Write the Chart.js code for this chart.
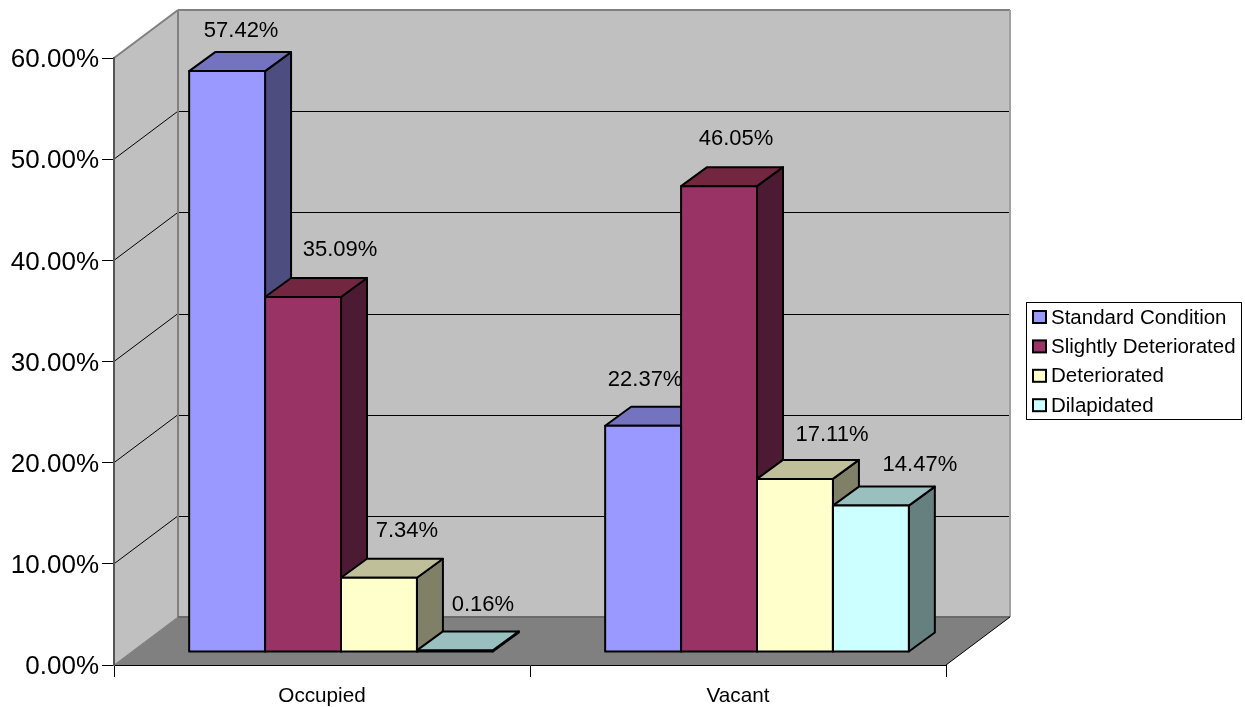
<!DOCTYPE html>
<html>
<head>
<meta charset="utf-8">
<title>Condition of buildings</title>
<script src="https://cdn.jsdelivr.net/npm/chart.js@4"></script>
<style>
  html, body { margin: 0; padding: 0; background: #fff; }
  canvas { display: block; }
</style>
</head>
<body>
<canvas id="chart" width="1245" height="707"></canvas>
<script>
const categories = ['Occupied', 'Vacant'];
const seriesNames = ['Standard Condition', 'Slightly Deteriorated', 'Deteriorated', 'Dilapidated'];
const standardCondition = [57.42, 22.37];
const slightlyDeteriorated = [35.09, 46.05];
const deteriorated = [7.34, 17.11];
const dilapidated = [0.16, 14.47];

const FONT = '"Liberation Sans", Arial, sans-serif';

// front / top / side face colours per series
const faces = [
  ['#9999FF', '#7373BF', '#4D4D80'],
  ['#993366', '#732640', '#4D1A33'],
  ['#FFFFCC', '#BFBF99', '#808066'],
  ['#CCFFFF', '#99BFBF', '#668080'],
];

const WALL = { dx: 64, dy: -48 };   // depth of the 3d box
const BAR = { dx: 26, dy: -19 };    // depth of one bar
const SHIFT = { dx: 19, dy: -13 };  // bars stand a bit inside the floor

// data labels were placed by hand in the original, offset from bar top centre
const labelNudge = [
  [[14, -40], [2, -46]],
  [[37, -47], [17, -47]],
  [[28, -47], [37, -44]],
  [[28, -45], [49, -41]],
];

function poly(ctx, pts, fill, stroke, width) {
  ctx.beginPath();
  pts.forEach((p, i) => (i ? ctx.lineTo(p[0], p[1]) : ctx.moveTo(p[0], p[1])));
  ctx.closePath();
  if (fill) { ctx.fillStyle = fill; ctx.fill(); }
  if (stroke) { ctx.strokeStyle = stroke; ctx.lineWidth = width; ctx.lineJoin = 'round'; ctx.stroke(); }
}

function line(ctx, x1, y1, x2, y2, color, width) {
  ctx.beginPath();
  ctx.moveTo(x1, y1);
  ctx.lineTo(x2, y2);
  ctx.strokeStyle = color;
  ctx.lineWidth = width;
  ctx.stroke();
}

const box3d = {
  id: 'box3d',
  beforeDraw(chart) {
    const { ctx, chartArea: a, scales } = chart;
    const bx = WALL.dx, by = WALL.dy;
    ctx.save();
    // back and side walls
    poly(ctx, [[a.left, a.top], [a.left + bx, a.top + by], [a.right + bx, a.top + by],
      [a.right + bx, a.bottom + by], [a.left + bx, a.bottom + by], [a.left, a.bottom]], '#C0C0C0');
    // gridlines from the value axis, running across the side wall then the back wall
    scales.y.ticks.forEach((t, i) => {
      const y = scales.y.getPixelForTick(i);
      if (t.value === 0 || t.value === scales.y.max) return;
      line(ctx, a.left, y, a.left + bx, y + by, '#000', 1);
      line(ctx, a.left + bx, Math.round(y + by) + 0.5, a.right + bx, Math.round(y + by) + 0.5, '#000', 1);
    });
    // floor
    poly(ctx, [[a.left, a.bottom], [a.right, a.bottom], [a.right + bx, a.bottom + by], [a.left + bx, a.bottom + by]], '#808080');
    // box edges
    line(ctx, a.left, a.top, a.left + bx, a.top + by, '#808080', 2);
    line(ctx, a.left + bx, a.top + by, a.right + bx, a.top + by, '#808080', 2);
    line(ctx, a.left + bx, a.top + by, a.left + bx, a.bottom + by, '#808080', 2);
    line(ctx, a.right + bx, a.top + by, a.right + bx, a.bottom + by, '#A0A0A0', 2);
    line(ctx, a.left + bx, a.bottom + by, a.right + bx, a.bottom + by, '#6A6A6A', 2);
    line(ctx, a.left, a.bottom, a.left + bx, a.bottom + by, '#808080', 1);
    line(ctx, a.right, a.bottom, a.right + bx, a.bottom + by, '#000', 1);
    ctx.restore();
  },
  beforeDatasetsDraw(chart) {
    const { ctx } = chart;
    ctx.save();
    ctx.translate(SHIFT.dx, SHIFT.dy);
    chart.data.datasets.forEach((ds, d) => {
      chart.getDatasetMeta(d).data.forEach((el) => {
        const l = el.x - el.width / 2, r = el.x + el.width / 2;
        // side, then top
        poly(ctx, [[r, el.y], [r + BAR.dx, el.y + BAR.dy], [r + BAR.dx, el.base + BAR.dy], [r, el.base]], faces[d][2], '#000', 2);
        poly(ctx, [[l, el.y], [l + BAR.dx, el.y + BAR.dy], [r + BAR.dx, el.y + BAR.dy], [r, el.y]], faces[d][1], '#000', 2);
      });
    });
  },
  afterDatasetsDraw(chart) {
    const { ctx } = chart;
    // outline of the front faces, centred on the edge
    chart.data.datasets.forEach((ds, d) => {
      chart.getDatasetMeta(d).data.forEach((el) => {
        ctx.strokeStyle = '#000';
        ctx.lineWidth = 2;
        ctx.strokeRect(el.x - el.width / 2, el.y, el.width, el.base - el.y);
      });
    });
    ctx.restore();
    ctx.save();
    ctx.font = '22px ' + FONT;
    ctx.fillStyle = '#000';
    ctx.textAlign = 'center';
    ctx.textBaseline = 'middle';
    chart.data.datasets.forEach((ds, d) => {
      chart.getDatasetMeta(d).data.forEach((el, i) => {
        const [nx, ny] = labelNudge[d][i];
        ctx.fillText(ds.data[i].toFixed(2) + '%', el.x + SHIFT.dx + nx, el.y + SHIFT.dy + ny);
      });
    });
    ctx.restore();
  },
  afterDraw(chart) {
    // legend box
    const { ctx } = chart;
    ctx.save();
    ctx.fillStyle = '#fff';
    ctx.fillRect(1026.5, 302.5, 215, 117);
    line(ctx, 1026, 302.5, 1242, 302.5, '#000', 1);
    line(ctx, 1026.5, 302, 1026.5, 420, '#000', 1);
    line(ctx, 1241.5, 302, 1241.5, 420, '#000', 1);
    line(ctx, 1026, 419.5, 1242, 419.5, '#000', 1);
    ctx.font = '20.5px ' + FONT;
    ctx.textBaseline = 'middle';
    chart.data.datasets.forEach((ds, d) => {
      const y = 317 + d * 29.4;
      ctx.fillStyle = ds.backgroundColor;
      ctx.fillRect(1033, y - 6, 13, 12);
      ctx.strokeStyle = '#000';
      ctx.lineWidth = 2;
      ctx.strokeRect(1033, y - 6, 13, 12);
      ctx.fillStyle = '#000';
      ctx.fillText(ds.label, 1051, y + 1);
    });
    ctx.restore();
  },
};

const allValues = [standardCondition, slightlyDeteriorated, deteriorated, dilapidated];

new Chart(document.getElementById('chart'), {
  type: 'bar',
  plugins: [box3d],
  data: {
    labels: categories,
    datasets: seriesNames.map((name, d) => ({
      label: name,
      data: allValues[d],
      backgroundColor: faces[d][0],
      borderWidth: 0,
      clip: false,
    })),
  },
  options: {
    responsive: false,
    animation: false,
    devicePixelRatio: 1,
    categoryPercentage: 0.73,
    barPercentage: 1,
    layout: { padding: { top: 58, right: 299, left: 0, bottom: 0 } },
    plugins: { legend: { display: false }, tooltip: { enabled: false } },
    scales: {
      x: {
        afterFit: (s) => { s.height = 42; },
        grid: { drawOnChartArea: false, tickLength: 12, tickColor: '#000', tickWidth: 1, offset: true },
        border: { color: '#000', width: 1 },
        ticks: { color: '#000', font: { family: FONT, size: 20.7 }, padding: 7, maxRotation: 0 },
      },
      y: {
        min: 0,
        max: 60,
        afterFit: (s) => { s.width = 114; },
        grid: { drawOnChartArea: false, tickLength: 12, tickColor: '#000', tickWidth: 1 },
        border: { color: '#555', width: 2 },
        ticks: {
          stepSize: 10,
          color: '#000',
          font: { family: FONT, size: 26 },
          padding: 3,
          labelOffset: 2,
          callback: (v) => v.toFixed(2) + '%',
        },
      },
    },
  },
});
</script>
</body>
</html>
